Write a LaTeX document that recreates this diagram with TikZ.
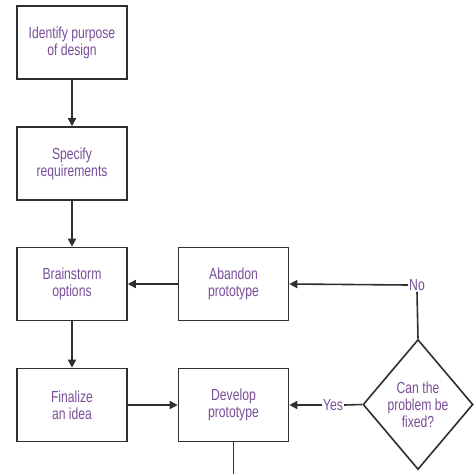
\documentclass[tikz,border=0pt]{standalone}
\usepackage{fontspec}
\setmainfont[FakeStretch=0.76]{Liberation Sans}
\usetikzlibrary{arrows.meta,shapes.geometric}
\definecolor{txt}{HTML}{7A4E9A}
\definecolor{ln}{HTML}{2E2E33}
\tikzset{
  stepbox/.style={draw=ln,line width=1.6pt,fill=white,minimum width=110pt,minimum height=73pt,
    align=center,text=txt,font=\fontsize{16}{17}\selectfont,inner sep=2pt},
  decide/.style={draw=ln,line width=1.6pt,fill=white,diamond,minimum width=110pt,minimum height=130pt,
    align=center,text=txt,font=\fontsize{16}{17}\selectfont,inner sep=0pt},
  lbl/.style={fill=white,text=txt,font=\fontsize{16}{17}\selectfont,inner sep=1pt},
  conn/.style={draw=ln,line width=1.6pt},
  arr/.style={conn,-{Triangle[length=8pt,width=8pt]}}
}
\begin{document}
\begin{tikzpicture}[x=1pt,y=-1pt]
\useasboundingbox[fill=white] (0,0) rectangle (474,474);
\node[stepbox] (id) at (72,42.5) {Identify purpose\\of design};
\node[stepbox] (spec) at (72,163.5) {Specify\\requirements};
\node[stepbox] (brain) at (72,284) {Brainstorm\\options};
\node[stepbox] (aband) at (233.5,284) {Abandon\\prototype};
\node[stepbox] (final) at (72,405) {Finalize\\an idea};
\node[stepbox] (dev) at (233.5,405) {Develop\\prototype};
\node[decide] (can) at (418,404.5) {Can the\\problem be\\fixed?};
\node[lbl] (no) at (417,285) {No};
\node[lbl] (yes) at (333,405) {Yes};
\coordinate (devout) at (233.5,474);
\coordinate (canout) at (474,404.5);
\draw[arr] (id) -- (spec);
\draw[arr] (spec) -- (brain);
\draw[arr] (brain) -- (final);
\draw[arr] (final) -- (dev);
\draw[arr] (aband) -- (brain);
\draw[conn] (can.north) -- (no.south);
\draw[arr] (no.west) -- (aband.east);
\draw[conn] (can.west) -- (yes.east);
\draw[arr] (yes.west) -- (dev.east);
\draw[conn] (dev.south) -- (devout);
\draw[conn] (can.east) -- (canout);
\end{tikzpicture}
\end{document}
